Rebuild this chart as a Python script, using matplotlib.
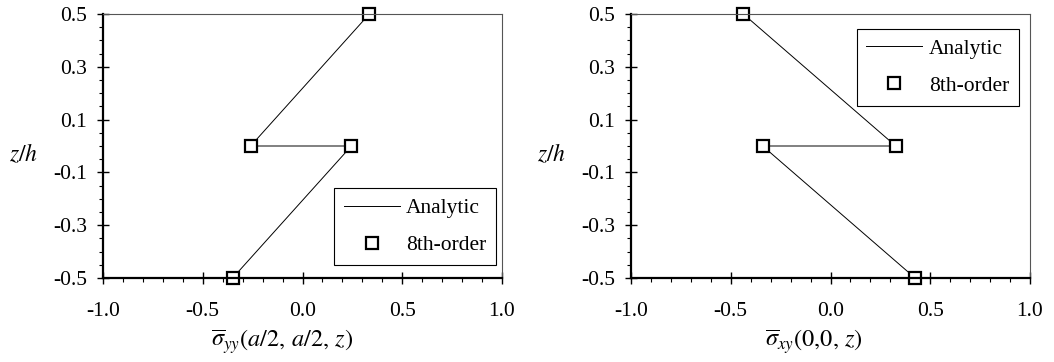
import numpy as np
import matplotlib
matplotlib.use("Agg")
from matplotlib import pyplot as plt
from matplotlib.ticker import MultipleLocator

plt.rcParams['font.family'] = ['Liberation Serif', 'DejaVu Serif']
plt.rcParams['mathtext.fontset'] = 'stix'
plt.rcParams['font.size'] = 15

# dados
z = [0.5, 0.0, 0.0, -0.5]
syy = [0.335, -0.260, 0.245, -0.350]
sxy = [-0.437, 0.327, -0.340, 0.424]

xticks = [-1.0, -0.5, 0.0, 0.5, 1.0]
yticks = [-0.5, -0.3, -0.1, 0.1, 0.3, 0.5]

fig = plt.figure(figsize=(10.54, 3.62), dpi=100)
ax1 = fig.add_axes([103 / 1054, 1 - 278 / 362, 399 / 1054, 264 / 362])
ax2 = fig.add_axes([631 / 1054, 1 - 278 / 362, 399 / 1054, 264 / 362])


def estilo(ax, xlabel, xl_x, loc, anchor):
    ax.set_xlim(-1, 1)
    ax.set_ylim(-0.5, 0.5)
    ax.set_xticks(xticks)
    ax.set_yticks(yticks)
    ax.set_xticklabels(["%.1f" % v for v in xticks])
    ax.set_yticklabels(["%.1f" % v for v in yticks])
    ax.xaxis.set_minor_locator(MultipleLocator(0.1))
    ax.yaxis.set_minor_locator(MultipleLocator(0.05))
    ax.tick_params(which='major', direction='inout', length=9, width=1.0)
    ax.tick_params(which='minor', direction='out', length=3, width=0.8)
    ax.tick_params(axis='x', pad=13, labelsize=15.5)
    ax.tick_params(axis='y', pad=7, labelsize=15.5)
    ax.spines['left'].set_linewidth(1.6)
    ax.spines['bottom'].set_linewidth(1.6)
    ax.spines['top'].set_linewidth(0.8)
    ax.spines['right'].set_linewidth(0.8)
    ax.spines['top'].set_color('#555555')
    ax.spines['right'].set_color('#555555')
    ax.set_xlabel(xlabel, fontsize=17.5, va='center', ha='center')
    ax.xaxis.set_label_coords(xl_x, -0.242)
    ax.set_ylabel('$z/h$', fontsize=17, rotation=0, va='center', ha='center')
    ax.yaxis.set_label_coords(-0.2, 0.466)
    leg = ax.legend(loc=loc, bbox_to_anchor=anchor, fancybox=False, framealpha=1,
                    edgecolor='black', fontsize=15.5, handlelength=2.6,
                    handletextpad=0.3, labelspacing=0.8, borderpad=0.45,
                    borderaxespad=0)
    leg.get_frame().set_linewidth(0.8)


ax1.plot(syy, z, color='black', lw=0.7, label='Analytic')
ax1.plot(syy, z, 's', ms=8, mfc='white', mec='black', mew=1.6, label='8th-order',
         clip_on=False)
estilo(ax1, r'$\overline{\sigma}_{yy}(a/2,\,a/2,\,z)$', 0.449, 'lower right', (0.985, 0.049))

ax2.plot(sxy, z, color='black', lw=0.7, label='Analytic')
ax2.plot(sxy, z, 's', ms=8, mfc='white', mec='black', mew=1.6, label='8th-order',
         clip_on=False)
estilo(ax2, r'$\overline{\sigma}_{xy}(0{,}0,\,z)$', 0.459, 'upper right', (0.972, 0.944))

plt.savefig("out.png", dpi=100)
